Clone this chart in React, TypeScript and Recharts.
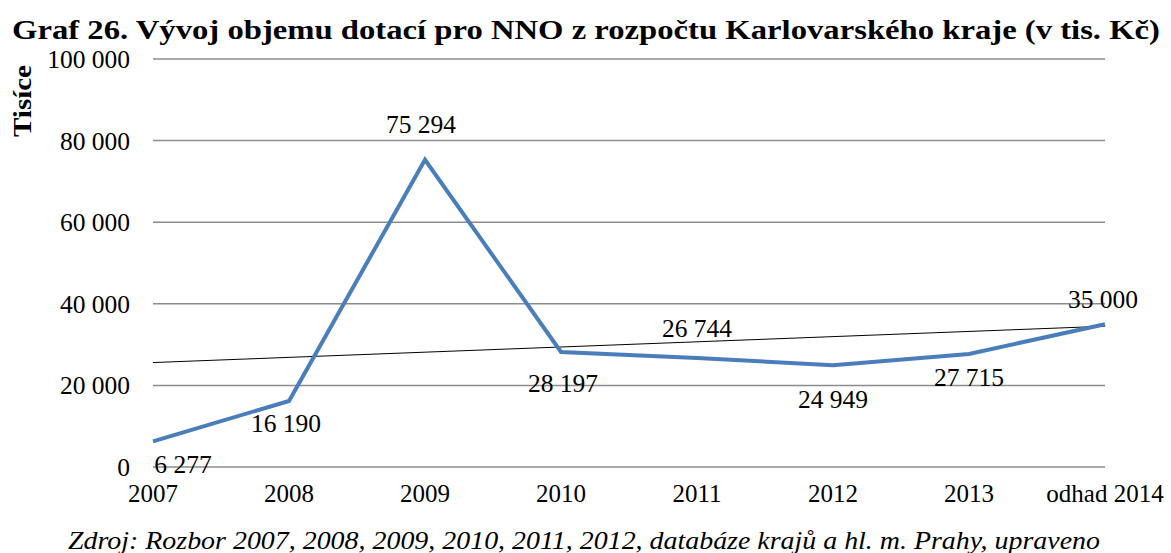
import React from 'react';
import { LineChart, Line, XAxis, YAxis, CartesianGrid, ReferenceLine, LabelList } from 'recharts';

// data
const years = ['2007', '2008', '2009', '2010', '2011', '2012', '2013', 'odhad 2014'];
const dotace = [6277, 16190, 75294, 28197, 26744, 24949, 27715, 35000];
const yTicks = [0, 20000, 40000, 60000, 80000, 100000];
// linear trend line as drawn in the picture (start / end)
const trendStart = 25600;
const trendEnd = 34500;

// label offsets from the point (px)
const labelDx = [30, -3, -4, 2, 0, 0, 0, -2];
const labelDy = [23, 23, -35, 32, -29, 34, 24, -25];

const data = years.map((y, i) => ({ year: y, value: dotace[i] }));

const fmt = (v: number) => String(v).replace(/\B(?=(\d{3})+(?!\d))/g, '\u00a0');

const FONT = '"Liberation Serif", "Times New Roman", serif';

const PointLabel = (props: any) => {
  const { x, y, index, value } = props;
  return (
    <text
      x={x + labelDx[index]}
      y={y + labelDy[index]}
      textAnchor="middle"
      dominantBaseline="central"
      fontFamily={FONT}
      fontSize={25.5}
      fill="#000"
    >
      {fmt(value)}
    </text>
  );
};

const App: React.FC = () => {
  return (
    <div style={{ position: 'absolute', left: 0, top: 0, width: 1171, height: 553, background: '#fff' }}>
      <LineChart width={1171} height={553} data={data} margin={{ top: 59, right: 66, bottom: 56, left: 0 }}>
        <CartesianGrid horizontal vertical={false} stroke="#8c8c8c" strokeWidth={1.5} />
        <XAxis
          dataKey="year"
          height={30}
          axisLine={false}
          tickLine={false}
          tickSize={0}
          tickMargin={17}
          interval={0}
          tick={{ fill: '#000', fontFamily: FONT, fontSize: 25 }}
        />
        <YAxis
          width={153}
          domain={[0, 100000]}
          ticks={yTicks}
          axisLine={false}
          tickLine={false}
          tickSize={0}
          tickMargin={23}
          tickFormatter={fmt}
          tick={{ fill: '#000', fontFamily: FONT, fontSize: 25.5 }}
          label={{
            value: 'Tisíce',
            angle: -90,
            position: 'insideLeft',
            content: () => (
              <text
                x={22}
                y={101}
                transform="rotate(-90 22 101)"
                textAnchor="middle"
                dominantBaseline="central"
                fontFamily={FONT}
                fontWeight="bold"
                fontSize={26}
                textLength={72}
                lengthAdjust="spacingAndGlyphs"
                fill="#000"
              >
                Tisíce
              </text>
            ),
          }}
        />
        <ReferenceLine
          segment={[
            { x: years[0], y: trendStart },
            { x: years[years.length - 1], y: trendEnd },
          ]}
          stroke="#000"
          strokeWidth={1}
        />
        <Line
          type="linear"
          dataKey="value"
          stroke="#4a7ebb"
          strokeWidth={4}
          dot={false}
          isAnimationActive={false}
        >
          <LabelList dataKey="value" content={<PointLabel />} />
        </Line>
      </LineChart>
      <svg width={1171} height={553} style={{ position: 'absolute', left: 0, top: 0, pointerEvents: 'none' }}>
        <text
          x={12}
          y={30}
          dominantBaseline="central"
          fontFamily={FONT}
          fontWeight="bold"
          fontSize={27}
          textLength={1148}
          lengthAdjust="spacingAndGlyphs"
          fill="#000"
        >
          Graf 26. Vývoj objemu dotací pro NNO z rozpočtu Karlovarského kraje (v tis. Kč)
        </text>
        <text
          x={68}
          y={540}
          dominantBaseline="central"
          fontFamily={FONT}
          fontStyle="italic"
          fontSize={25}
          textLength={1032}
          lengthAdjust="spacingAndGlyphs"
          fill="#000"
        >
          Zdroj: Rozbor 2007, 2008, 2009, 2010, 2011, 2012, databáze krajů a hl. m. Prahy, upraveno
        </text>
      </svg>
    </div>
  );
};

export default App;
